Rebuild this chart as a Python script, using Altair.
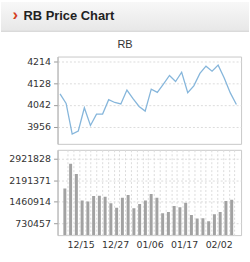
import altair as alt
import pandas as pd

# ---- data ----
dates = ["12/12", "12/13", "12/14", "12/15", "12/19", "12/21", "12/22", "12/25",
         "12/26", "12/27", "12/28", "12/29", "01/02", "01/04", "01/05", "01/06",
         "01/08", "01/09", "01/11", "01/15", "01/16", "01/17", "01/19", "01/23",
         "01/25", "01/29", "02/01", "02/02", "02/05", "02/06"]
prices = [4086, 4048, 3927, 3939, 4031, 3961, 4006, 4006, 4063, 4052,
          4046, 4101, 4067, 4036, 4018, 4105, 4092, 4125, 4159, 4135,
          4172, 4091, 4118, 4167, 4196, 4176, 4200, 4149, 4090, 4044]
volumes = [1910000, 2753000, 2405000, 1506000, 1472000, 1652000, 1663000, 1629000,
           1405000, 1259000, 1596000, 1686000, 1236000, 1382000, 1506000, 1719000,
           1596000, 1067000, 1112000, 1315000, 1270000, 1427000, 1011000, 888000,
           899000, 798000, 1034000, 1112000, 1484000, 1528000]
price_ticks = [3956, 4042, 4128, 4214]
volume_ticks = [730457, 1460914, 2191371, 2921828]
label_dates = ["12/15", "12/27", "01/06", "01/17", "02/02"]
header_title = "RB Price Chart"
chart_title = "RB"

df = pd.DataFrame({"i": list(range(len(dates))), "date": dates,
                   "price": prices, "volume": volumes})
one = pd.DataFrame({"k": [0]})

W = 185
H_TOP = 88
H_BOT = 86
LABEL_FONT = "DejaVu Sans"
GRID = "#dcdcdc"

x_scale = alt.Scale(domain=[-0.41, 29.77], nice=False, zero=False)
label_idx = [dates.index(d) for d in label_dates]
grid_vals = [i + 0.5 for i in range(len(dates))]
date_expr = "[" + ",".join('"%s"' % d for d in dates) + "][datum.value]"

y_axis_common = dict(title=None, grid=True, gridDash=[2, 2], gridColor=GRID,
                     domainColor="#b5b5b5", tickColor="#999999", tickSize=4,
                     labelPadding=3, labelFont=LABEL_FONT, labelFontSize=9.5,
                     labelColor="#333333", format="d")

# ---- top: header + price line ----
header_bg = alt.Chart(one).mark_rect(
    color=alt.LinearGradient(gradient="linear",
                             stops=[alt.GradientStop(color="#f8f8f8", offset=0),
                                    alt.GradientStop(color="#e7e7e7", offset=1)],
                             x1=0, x2=0, y1=0, y2=1)
).encode(x=alt.value(-57), x2=alt.value(193), y=alt.value(-55), y2=alt.value(-25))

header_line = alt.Chart(one).mark_rule(color="#d2d2d2", strokeWidth=1).encode(
    x=alt.value(-57), x2=alt.value(193), y=alt.value(-25.5))

chevron = alt.Chart(one).mark_text(
    text="›", font="Liberation Sans", fontSize=17, fontWeight="bold",
    color="#d4401f", align="center", baseline="middle"
).encode(x=alt.value(-42.5), y=alt.value(-42))

header_text = alt.Chart(one).mark_text(
    text=header_title, font="Liberation Sans", fontSize=13, fontWeight="bold",
    color="#222222", align="left", baseline="alphabetic"
).encode(x=alt.value(-34.3), y=alt.value(-36.7))

sub_text = alt.Chart(one).mark_text(
    text=chart_title, font="Liberation Sans", fontSize=11,
    color="#333333", align="center", baseline="alphabetic"
).encode(x=alt.value(68), y=alt.value(-8.3))

line = alt.Chart(df).mark_line(color="#86b6db", strokeWidth=1.3).encode(
    x=alt.X("i:Q", scale=x_scale, axis=None),
    y=alt.Y("price:Q", scale=alt.Scale(domain=[3888, 4234], nice=False, zero=False),
            axis=alt.Axis(values=price_ticks, **y_axis_common)),
)

top = alt.layer(header_bg, header_line, chevron, header_text, sub_text, line).properties(
    width=W, height=H_TOP)

# ---- bottom: volume bars ----
bars = alt.Chart(df).mark_bar(color="#a2a2a2", size=3, clip=True).encode(
    x=alt.X("i:Q", scale=x_scale,
            axis=alt.Axis(values=grid_vals, labels=False, ticks=False, domain=False,
                          grid=True, gridDash=[2, 2], gridColor=GRID, title=None,
                          orient="bottom")),
    y=alt.Y("volume:Q", scale=alt.Scale(domain=[326000, 3225000], nice=False, zero=False),
            axis=alt.Axis(values=volume_ticks, **y_axis_common)),
)

xlabels = alt.Chart(df).mark_point(opacity=0).encode(
    x=alt.X("i:Q", scale=x_scale,
            axis=alt.Axis(values=label_idx, labelExpr=date_expr, grid=False, ticks=False,
                          domain=False, labelPadding=4, title=None, orient="bottom",
                          labelFont=LABEL_FONT, labelFontSize=9.5, labelColor="#333333",
                          labelOffset=-1.5)),
    y=alt.value(0),
)

bottom = alt.layer(bars, xlabels).resolve_axis(x="independent").properties(
    width=W, height=H_BOT)

chart = alt.vconcat(top, bottom, spacing=1).properties(
    padding=0, background="white"
).configure_view(stroke="#c8c8c8", strokeWidth=1)

chart.save("out.html", embed_options={"renderer": "svg", "actions": False})
